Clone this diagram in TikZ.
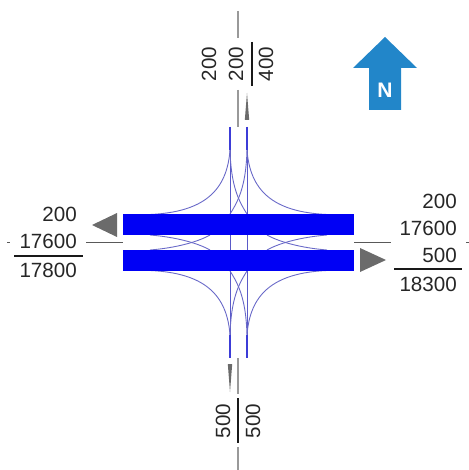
\documentclass[tikz,border=0pt]{standalone}
\usepackage{fontspec}
\setmainfont{Liberation Sans}
\begin{document}
\begin{tikzpicture}[x=1bp,y=-1bp,
  num/.style={inner sep=0pt,font=\fontsize{20.6bp}{24bp}\selectfont,text=black!85},
  lab/.style={num,anchor=east},
  vlab/.style={num,rotate=90},
  grayline/.style={draw=black!40,line width=1.2bp},
  hline/.style={draw=black!65,line width=0.8bp},
  sumbar/.style={draw=black!90,line width=1.7bp},
  lane/.style={fill={rgb,255:red,0;green,0;blue,245}},
  thin path/.style={draw={rgb,255:red,105;green,105;blue,200},line width=0.9bp},
  vpath/.style={draw={rgb,255:red,90;green,90;blue,200},line width=0.9bp},
  vend/.style={draw={rgb,255:red,60;green,60;blue,215},line width=1.3bp},
  flowarrow/.style={fill=black!58},
]
\useasboundingbox (0,0) rectangle (469,470);
% gray axis lines
\draw[grayline] (238,11) -- (238,38);
\draw[grayline] (238,90) -- (238,127);
\draw[grayline] (238,358) -- (238,394);
\draw[grayline] (238,447) -- (238,470);
\draw[hline] (86,242.5) -- (123,242.5);
\draw[hline] (354,242.5) -- (391,242.5);
\draw[hline] (7,242.5) -- (10,242.5);
\draw[hline] (466,242.5) -- (469,242.5);
% vertical lanes
\foreach \x in {230,247}{
  \draw[vpath] (\x,127) -- (\x,358);
  \draw[vend] (\x,127) -- (\x,150);
  \draw[vend] (\x,335) -- (\x,358);
}
% corner curves
\draw[thin path] (230,150) .. controls (227,190) and (205,212) .. (150,214.5);
\draw[thin path] (247,150) .. controls (250,190) and (272,212) .. (327,214.5);
\draw[thin path] (230,335) .. controls (227,295) and (205,273) .. (150,270.5);
\draw[thin path] (247,335) .. controls (250,295) and (272,273) .. (327,270.5);
% crossing curves, north and south
\draw[thin path] (230,150) .. controls (231,185) and (238,200) .. (247,214);
\draw[thin path] (247,150) .. controls (246,185) and (239,200) .. (230,214);
\draw[thin path] (230,335) .. controls (231,300) and (238,285) .. (247,271);
\draw[thin path] (247,335) .. controls (246,300) and (239,285) .. (230,271);
% crossing curves between the bars
\draw[thin path] (150,235) .. controls (186,238) and (205,247) .. (210,250);
\draw[thin path] (150,250) .. controls (186,247) and (205,238) .. (210,235);
\draw[thin path] (327,235) .. controls (291,238) and (272,247) .. (267,250);
\draw[thin path] (327,250) .. controls (291,247) and (272,238) .. (267,235);
% bars
\fill[lane] (123,214.5) rectangle (354,235);
\fill[lane] (123,250) rectangle (354,270.5);
% flow arrows
\fill[flowarrow] (92,225) -- (117,213) -- (117,237) -- cycle;
\fill[flowarrow] (386,260) -- (360,248) -- (360,272) -- cycle;
\fill[flowarrow] (247,93) -- (249.2,120) -- (244.8,120) -- cycle;
\fill[flowarrow] (230,392) -- (227.8,364) -- (232.2,364) -- cycle;
% north sign
\fill[fill={rgb,255:red,34;green,134;blue,201}] (385,37) -- (417,68) -- (401,68) -- (401,110) -- (369,110) -- (369,68) -- (353,68) -- cycle;
\node[inner sep=0pt,text=white,font=\fontsize{21bp}{24bp}\selectfont\bfseries] (north) at (385,90.5) {N};
% top numbers
\node[vlab] (t1) at (209,64) {200};
\node[vlab] (t2) at (236,64) {200};
\node[vlab] (t3) at (266,64) {400};
\draw[sumbar] (251.7,42) -- (251.7,86);
% bottom numbers
\node[vlab] (b1) at (223,421) {500};
\node[vlab] (b2) at (253,421) {500};
\draw[sumbar] (238,398) -- (238,443);
% left numbers
\node[lab] (l1) at (77,214) {200};
\node[lab] (l2) at (77,241) {17600};
\node[lab] (l3) at (77,270) {17800};
\draw[sumbar] (14,256) -- (83,256);
% right numbers
\node[lab] (r1) at (457,201) {200};
\node[lab] (r2) at (457,228) {17600};
\node[lab] (r3) at (457,255) {500};
\node[lab] (r4) at (457,284) {18300};
\draw[sumbar] (394,269) -- (462,269);
\end{tikzpicture}
\end{document}
